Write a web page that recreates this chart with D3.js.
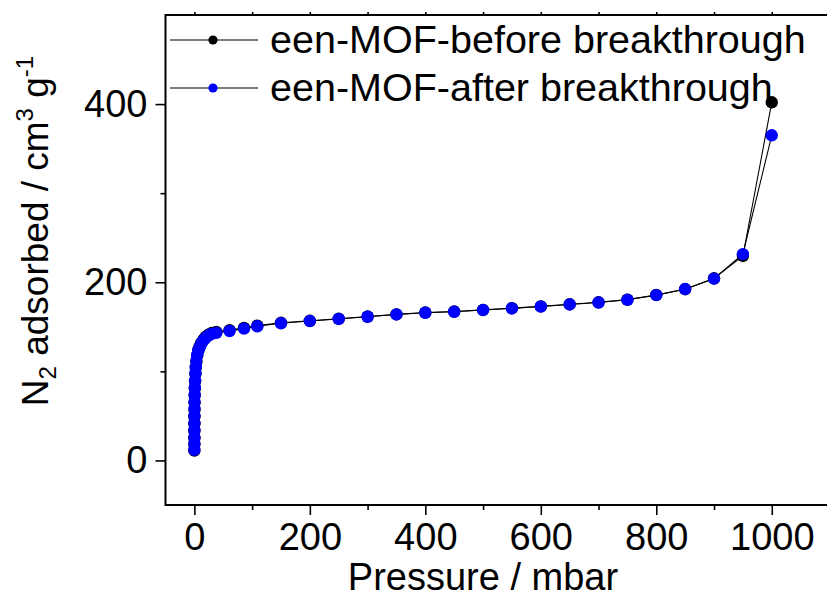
<!DOCTYPE html>
<html>
<head>
<meta charset="utf-8">
<script src="https://cdn.jsdelivr.net/npm/d3@7/dist/d3.min.js"></script>
<style>
  html, body { margin: 0; padding: 0; background: #fff; }
  svg { display: block; }
  text { font-family: "Liberation Sans", Arial, sans-serif; fill: #000; }
</style>
</head>
<body>
<svg id="chart" width="827" height="611"></svg>
<script>
// N2 isotherm of een-MOF, before and after the breakthrough experiment
const pressure = [0.005, 0.01, 0.02, 0.04, 0.07, 0.1, 0.2, 0.3, 0.5, 0.8,
  1.2, 1.8, 2.5, 3.5, 5, 7, 9, 12, 16, 20, 25, 30, 38, 61, 86, 109,
  150, 200, 250, 300, 350, 400, 450, 500, 550, 600, 650, 700, 750, 800, 850, 900, 950, 1000];

const beforeValues = [11, 18, 25, 33, 41, 49, 57, 65, 73, 81,
  89, 97, 104, 111, 118, 124, 128, 132, 136, 139, 141.5, 143, 144.3, 146.3, 148.8, 151.3,
  154.5, 156.8, 159, 161.5, 164, 166, 167.2, 169, 171, 173, 175.3, 177.5, 180.5, 185.8, 192.2, 204.5, 229.5, 402];

const afterValues = [12, 19, 26, 34, 42, 50, 58, 66, 74, 82,
  90, 98, 105, 112, 118.5, 123.5, 127, 131, 135, 138, 140.5, 142, 143.2, 145.3, 148, 150.6,
  154, 156.5, 158.8, 161.3, 163.9, 165.8, 166.9, 168.8, 170.6, 172.8, 175.1, 177.3, 180.3, 185.6, 192.4, 204, 231.6, 365];

const seriesNames = ["een-MOF-before breakthrough", "een-MOF-after breakthrough"];
const seriesColors = ["#000000", "#0000ff"];

const xMajorTicks = [0, 200, 400, 600, 800, 1000];
const xMinorTicks = [100, 300, 500, 700, 900];
const yMajorTicks = [0, 200, 400];
const yMinorTicks = [100, 300];

const svg = d3.select("#chart");
const margin = { left: 165.5, top: 15 };
const width = 664, height = 490;
const g = svg.append("g").attr("transform", `translate(${margin.left},${margin.top})`);

const x = d3.scaleLinear().domain([-50, 1100]).range([0, width]);
const y = d3.scaleLinear().domain([-50, 500]).range([height, 0]);

const fontSize = 38;

// bottom axis
g.append("g").attr("transform", `translate(0,${height})`)
  .call(d3.axisBottom(x).tickValues(xMajorTicks).tickSize(10).tickPadding(8).tickFormat(d3.format("d")));
g.append("g").attr("transform", `translate(0,${height})`)
  .call(d3.axisBottom(x).tickValues(xMinorTicks).tickSize(5).tickFormat(""));
// top axis, short ticks
g.append("g")
  .call(d3.axisTop(x).tickValues(xMajorTicks.concat(xMinorTicks)).tickSize(3).tickFormat(""));
// left axis
g.append("g")
  .call(d3.axisLeft(y).tickValues(yMajorTicks).tickSize(10).tickPadding(8).tickFormat(d3.format("d")));
g.append("g")
  .call(d3.axisLeft(y).tickValues(yMinorTicks).tickSize(5).tickFormat(""));

g.selectAll(".domain").remove();
g.selectAll(".tick line").attr("stroke", "#000").attr("stroke-width", 1.6);
g.selectAll(".tick text").attr("font-size", fontSize)
  .attr("font-family", '"Liberation Sans", Arial, sans-serif').attr("fill", "#000");

// frame
g.append("rect").attr("x", 0).attr("y", 0).attr("width", width).attr("height", height)
  .attr("fill", "none").attr("stroke", "#000").attr("stroke-width", 2);

// series
const series = [beforeValues, afterValues].map((vals, i) => ({
  name: seriesNames[i], color: seriesColors[i],
  points: pressure.map((p, k) => ({ p, v: vals[k] }))
}));

const line = d3.line().x(d => x(d.p)).y(d => y(d.v));

series.forEach(s => {
  g.append("path").datum(s.points)
    .attr("d", line).attr("fill", "none").attr("stroke", "#000").attr("stroke-width", 1.1);
});
series.forEach(s => {
  g.append("g").selectAll("circle").data(s.points).join("circle")
    .attr("cx", d => x(d.p)).attr("cy", d => y(d.v)).attr("r", 6.2)
    .attr("fill", s.color);
});

// legend
const legend = svg.append("g");
series.forEach((s, i) => {
  const ly = 40 + i * 48;
  legend.append("line").attr("x1", 170).attr("x2", 258).attr("y1", ly).attr("y2", ly)
    .attr("stroke", "#000").attr("stroke-width", 1.1);
  legend.append("circle").attr("cx", 213).attr("cy", ly).attr("r", 4.6).attr("fill", s.color);
  legend.append("text").attr("x", 270).attr("y", ly + 13)
    .attr("font-size", 39.5).text(s.name);
});

// axis titles
svg.append("text").attr("x", 483).attr("y", 590).attr("text-anchor", "middle")
  .attr("font-size", fontSize).text("Pressure / mbar");

const yTitle = svg.append("text")
  .attr("transform", "translate(48,231) rotate(-90)")
  .attr("text-anchor", "middle").attr("font-size", 37);
yTitle.append("tspan").text("N");
yTitle.append("tspan").attr("font-size", 24).attr("dy", 8).text("2");
yTitle.append("tspan").attr("dy", -8).text(" adsorbed / cm");
yTitle.append("tspan").attr("font-size", 24).attr("dy", -15).text("3");
yTitle.append("tspan").attr("dy", 15).text(" g");
yTitle.append("tspan").attr("font-size", 24).attr("dy", -15).text("-1");
</script>
</body>
</html>
